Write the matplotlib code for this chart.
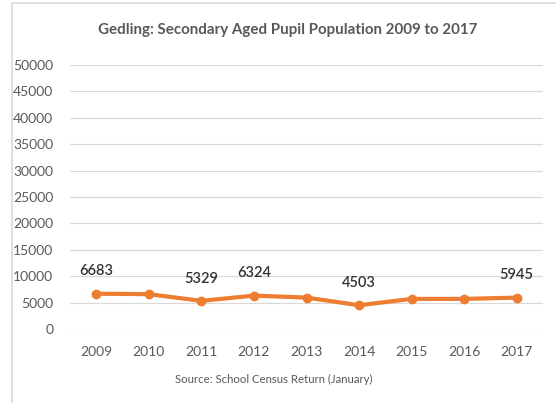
import matplotlib

matplotlib.use("Agg")
import matplotlib.pyplot as plt
from matplotlib.patches import Rectangle

years = ["2009", "2010", "2011", "2012", "2013", "2014", "2015", "2016", "2017"]
pupils = [6683, 6600, 5329, 6324, 5950, 4503, 5700, 5700, 5945]
labelled = {"2009": 6683, "2011": 5329, "2012": 6324, "2014": 4503, "2017": 5945}
yticks = list(range(0, 50001, 5000))

plt.rcParams["font.family"] = ["Lato", "DejaVu Sans"]
GREY = "#595959"
ORANGE = "#ED7D31"

fig = plt.figure(figsize=(5.56, 4.03), dpi=100)
ax = fig.add_axes([70 / 556, 1 - 329 / 403, (543 - 70) / 556, (329 - 65) / 403])

x = list(range(len(years)))
ax.plot(x, pupils, color=ORANGE, lw=3, marker="o", ms=6, solid_capstyle="round", zorder=3)
for i, (yr, v) in enumerate(zip(years, pupils)):
    if yr in labelled:
        ax.annotate(str(labelled[yr]), (i, v), textcoords="offset points", xytext=(0, 11),
                    ha="center", va="bottom", fontsize=10.5, color="#333333",
                    fontweight="semibold")

ax.set_xlim(-0.5, len(years) - 0.5)
ax.set_ylim(0, 50000)
ax.set_xticks(x)
ax.set_xticklabels(years)
ax.set_yticks(yticks)
ax.set_yticklabels([str(t) for t in yticks])
ax.tick_params(length=0, colors=GREY, labelsize=10)
ax.tick_params(axis="x", pad=12)
ax.tick_params(axis="y", pad=12)
ax.grid(axis="y", color="#D9D9D9", lw=0.9)
ax.set_axisbelow(True)
for s in ax.spines.values():
    s.set_visible(False)

fig.text(288 / 556, 1 - 30 / 403, "Gedling: Secondary Aged Pupil Population 2009 to 2017",
         ha="center", va="center", fontsize=10.9, fontweight="bold", color=GREY)
fig.text(274 / 556, 1 - 379 / 403, "Source: School Census Return (January)",
         ha="center", va="center", fontsize=8.2, color=GREY)

fig.patches.append(Rectangle((12 / 556, -0.05), 1.0, 1 - 3 / 403 + 0.05, transform=fig.transFigure,
                             fill=False, edgecolor="#D9D9D9", lw=1.2))

fig.savefig("out.png", dpi=100)
